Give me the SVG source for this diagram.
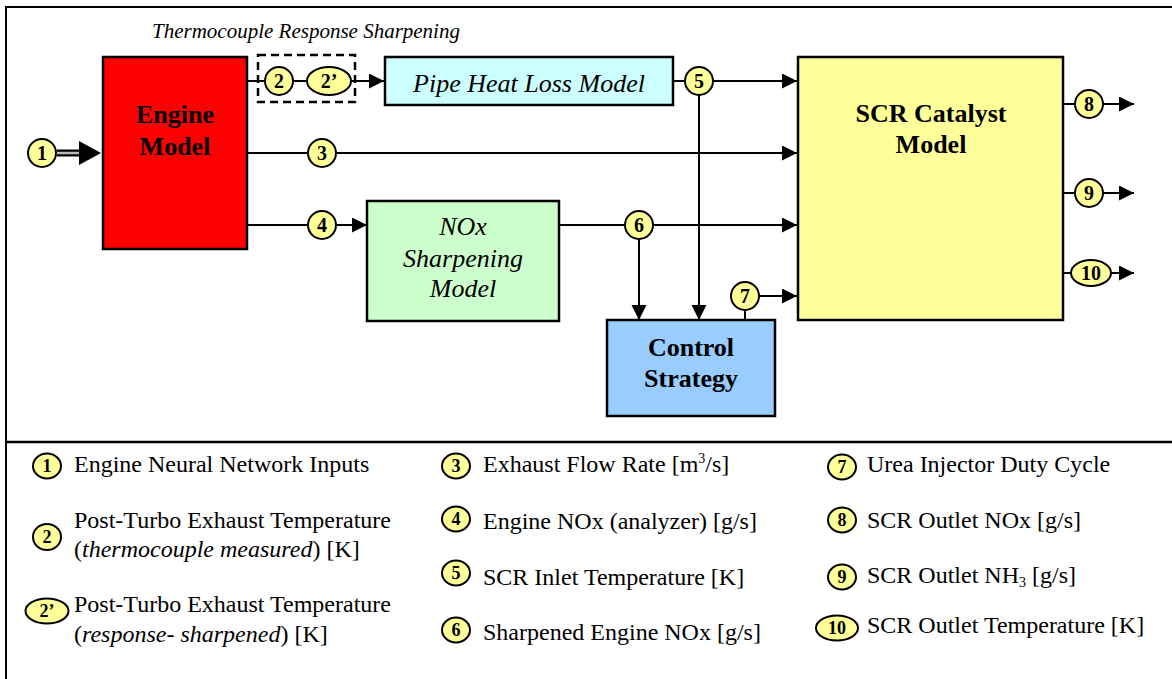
<svg xmlns="http://www.w3.org/2000/svg" width="1172" height="679" viewBox="0 0 1172 679">
<style>
.box{stroke:#000;stroke-width:2.5}
.ln{stroke:#000;stroke-width:2;fill:none}
.tag{fill:#FFFF99;stroke:#000;stroke-width:2}
.num{font-family:"Liberation Serif","Times New Roman",serif;font-weight:bold;font-size:20px;text-anchor:middle}
.lnum{font-family:"Liberation Serif","Times New Roman",serif;font-weight:bold;font-size:18px;text-anchor:middle}
.bt{font-family:"Liberation Serif","Times New Roman",serif;font-weight:bold;font-size:26px;text-anchor:middle}
.it{font-family:"Liberation Serif","Times New Roman",serif;font-style:italic;font-size:26px;text-anchor:middle}
.lg{font-family:"Liberation Serif","Times New Roman",serif;font-size:24px}
.ttl{font-family:"Liberation Serif","Times New Roman",serif;font-style:italic;font-size:21px}
</style>
<defs>
<marker id="ah" markerUnits="userSpaceOnUse" markerWidth="16" markerHeight="16" refX="15" refY="7.5" orient="auto">
<path d="M0,0 L15,7.5 L0,15 Z" fill="#000"/>
</marker>
</defs>
<rect width="1172" height="679" fill="#fff"/>
<g id="frame">
<path d="M6,690 V7 H1175" fill="none" stroke="#000" stroke-width="2"/>
<line x1="6" y1="442" x2="1175" y2="442" stroke="#000" stroke-width="2.5"/>
</g>
<text class="ttl" x="152" y="38">Thermocouple Response Sharpening</text>
<g id="connectors">
<line x1="57" y1="153" x2="81" y2="153" stroke="#000" stroke-width="7"/>
<line x1="57" y1="153" x2="81" y2="153" stroke="#bbb" stroke-width="2.5"/>
<path d="M79,141 L101,153 L79,165 Z" fill="#000"/>
<line class="ln" x1="247" y1="81" x2="265" y2="81"/>
<line class="ln" x1="293" y1="81" x2="307" y2="81"/>
<path class="ln" d="M351,81 H384" marker-end="url(#ah)"/>
<line class="ln" x1="673" y1="81" x2="685" y2="81"/>
<path class="ln" d="M713,81 H797" marker-end="url(#ah)"/>
<path class="ln" d="M699,95 V320" marker-end="url(#ah)"/>
<line class="ln" x1="247" y1="153" x2="308" y2="153"/>
<path class="ln" d="M336,153 H797" marker-end="url(#ah)"/>
<line class="ln" x1="247" y1="225" x2="308" y2="225"/>
<path class="ln" d="M336,225 H367" marker-end="url(#ah)"/>
<line class="ln" x1="559" y1="225" x2="625" y2="225"/>
<path class="ln" d="M653,225 H797" marker-end="url(#ah)"/>
<path class="ln" d="M639,239 V320" marker-end="url(#ah)"/>
<line class="ln" x1="745" y1="320" x2="745" y2="310"/>
<path class="ln" d="M759,296 H797" marker-end="url(#ah)"/>
<line class="ln" x1="1063" y1="104" x2="1075" y2="104"/>
<path class="ln" d="M1103,104 H1134" marker-end="url(#ah)"/>
<line class="ln" x1="1063" y1="193" x2="1075" y2="193"/>
<path class="ln" d="M1103,193 H1134" marker-end="url(#ah)"/>
<line class="ln" x1="1063" y1="273" x2="1071" y2="273"/>
<path class="ln" d="M1111,273 H1134" marker-end="url(#ah)"/>
</g>
<g id="sharpening-group">
<rect x="258" y="55" width="97" height="47" fill="none" stroke="#000" stroke-width="2.5" stroke-dasharray="8,5"/>
</g>
<g id="engine-model">
<rect class="box" x="103" y="57" width="144" height="192" fill="#FF0000"/>
<text class="bt" x="175" y="123">Engine</text>
<text class="bt" x="175" y="155">Model</text>
</g>
<g id="pipe-heat-loss-model">
<rect class="box" x="385" y="57" width="288" height="48" fill="#CCFFFF"/>
<text class="it" x="529" y="92">Pipe Heat Loss Model</text>
</g>
<g id="nox-sharpening-model">
<rect class="box" x="367" y="201" width="192" height="120" fill="#CCFFCC"/>
<text class="it" x="463" y="235">NOx</text>
<text class="it" x="463" y="267">Sharpening</text>
<text class="it" x="463" y="297">Model</text>
</g>
<g id="control-strategy">
<rect class="box" x="607" y="320" width="168" height="96" fill="#99CCFF"/>
<text class="bt" x="691" y="356">Control</text>
<text class="bt" x="691" y="387">Strategy</text>
</g>
<g id="scr-catalyst-model">
<rect class="box" x="798" y="57" width="265" height="263" fill="#FFFF99"/>
<text class="bt" x="931" y="122">SCR Catalyst</text>
<text class="bt" x="931" y="153">Model</text>
</g>
<g id="tag-1"><circle class="tag" cx="42" cy="153" r="14"/><text class="num" x="42" y="160">1</text></g>
<g id="tag-2"><circle class="tag" cx="279" cy="81" r="14"/><text class="num" x="279" y="88">2</text></g>
<g id="tag-2p"><ellipse class="tag" cx="329" cy="81" rx="22" ry="14"/><text class="num" x="329" y="88">2’</text></g>
<g id="tag-3"><circle class="tag" cx="322" cy="153" r="14"/><text class="num" x="322" y="160">3</text></g>
<g id="tag-4"><circle class="tag" cx="322" cy="225" r="14"/><text class="num" x="322" y="232">4</text></g>
<g id="tag-5"><circle class="tag" cx="699" cy="81" r="14"/><text class="num" x="699" y="88">5</text></g>
<g id="tag-6"><circle class="tag" cx="639" cy="225" r="14"/><text class="num" x="639" y="232">6</text></g>
<g id="tag-7"><circle class="tag" cx="745" cy="296" r="14"/><text class="num" x="745" y="303">7</text></g>
<g id="tag-8"><circle class="tag" cx="1089" cy="104" r="14"/><text class="num" x="1089" y="111">8</text></g>
<g id="tag-9"><circle class="tag" cx="1089" cy="193" r="14"/><text class="num" x="1089" y="200">9</text></g>
<g id="tag-10"><ellipse class="tag" cx="1091" cy="273" rx="20" ry="13"/><text class="num" x="1091" y="280">10</text></g>
<g id="legend">
<ellipse class="tag" cx="47" cy="466" rx="14" ry="12.5"/><text class="lnum" x="47" y="472">1</text>
<text class="lg" x="74" y="472">Engine Neural Network Inputs</text>
<ellipse class="tag" cx="47" cy="537" rx="14" ry="13"/><text class="lnum" x="47" y="543">2</text>
<text class="lg" x="74" y="528">Post-Turbo Exhaust Temperature</text>
<text class="lg" x="74" y="557">(<tspan font-style="italic">thermocouple measured</tspan>) [K]</text>
<ellipse class="tag" cx="47" cy="611" rx="21.5" ry="12.5"/><text class="lnum" x="47" y="617">2’</text>
<text class="lg" x="74" y="612">Post-Turbo Exhaust Temperature</text>
<text class="lg" x="74" y="642">(<tspan font-style="italic">response- sharpened</tspan>) [K]</text>
<ellipse class="tag" cx="456" cy="466" rx="14" ry="12.5"/><text class="lnum" x="456" y="472">3</text>
<text class="lg" x="483" y="472">Exhaust Flow Rate [m<tspan font-size="14px" dy="-9">3</tspan><tspan dy="9">/s]</tspan></text>
<ellipse class="tag" cx="456" cy="519" rx="14" ry="12.5"/><text class="lnum" x="456" y="525">4</text>
<text class="lg" x="483" y="529">Engine NOx (analyzer) [g/s]</text>
<ellipse class="tag" cx="456" cy="573" rx="14" ry="12.5"/><text class="lnum" x="456" y="579">5</text>
<text class="lg" x="483" y="585">SCR Inlet Temperature [K]</text>
<ellipse class="tag" cx="456" cy="630" rx="14" ry="12.5"/><text class="lnum" x="456" y="636">6</text>
<text class="lg" x="483" y="640">Sharpened Engine NOx [g/s]</text>
<ellipse class="tag" cx="842" cy="467" rx="14" ry="12.5"/><text class="lnum" x="842" y="473">7</text>
<text class="lg" x="867" y="472">Urea Injector Duty Cycle</text>
<ellipse class="tag" cx="842" cy="520" rx="14" ry="12.5"/><text class="lnum" x="842" y="526">8</text>
<text class="lg" x="867" y="528">SCR Outlet NOx [g/s]</text>
<ellipse class="tag" cx="842" cy="577" rx="14" ry="12.5"/><text class="lnum" x="842" y="583">9</text>
<text class="lg" x="867" y="583">SCR Outlet NH<tspan font-size="14px" dy="4">3</tspan><tspan dy="-4"> [g/s]</tspan></text>
<ellipse class="tag" cx="837" cy="628" rx="21" ry="12.5"/><text class="lnum" x="837" y="634">10</text>
<text class="lg" x="867" y="633">SCR Outlet Temperature [K]</text>
</g>
</svg>
